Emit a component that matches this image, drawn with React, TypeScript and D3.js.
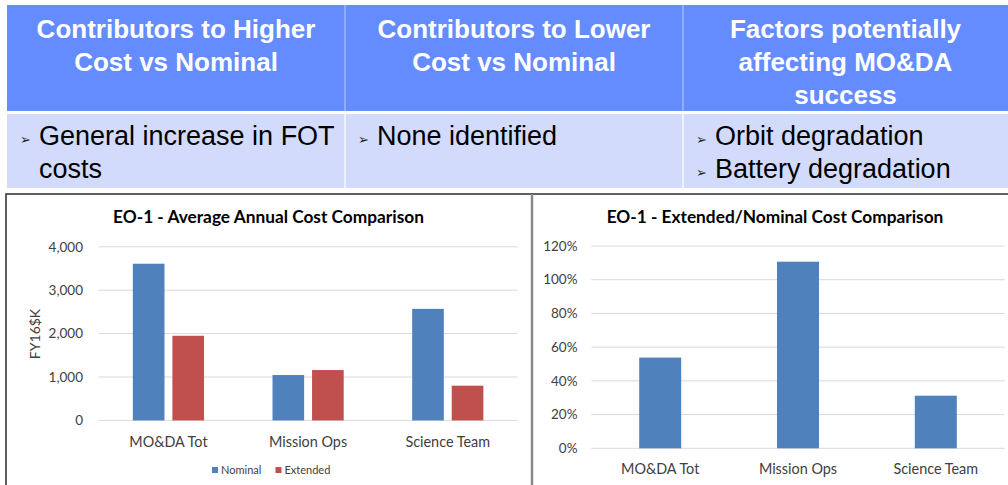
import React from "react";
import * as d3 from "d3";

// table text
const headerLines = [
  ["Contributors to Higher", "Cost vs Nominal"],
  ["Contributors to Lower", "Cost vs Nominal"],
  ["Factors potentially", "affecting MO&DA", "success"],
];
// each bullet is a list of wrapped lines
const bulletItems = [
  [["General increase in FOT", "costs"]],
  [["None identified"]],
  [["Orbit degradation"], ["Battery degradation"]],
];

// chart data
const categories = ["MO&DA Tot", "Mission Ops", "Science Team"];
const seriesNames = ["Nominal", "Extended"];
const nominalCost = [3610, 1045, 2570];
const extendedCost = [1950, 1160, 800];
const extendedRatio = [0.538, 1.107, 0.312];
const costTicks = [0, 1000, 2000, 3000, 4000];
const ratioTicks = [0, 0.2, 0.4, 0.6, 0.8, 1.0, 1.2];

const BLUE = "#4f81bd";
const RED = "#c0504d";
const GRID = "#d9d9d9";
const AXIS_TEXT = "#404040";
const FONT = "Lato, 'Open Sans', sans-serif";
const TABLE_FONT = "'Liberation Sans', Arial, sans-serif";

const colEdges = [7, 345, 683, 1008];

function Table() {
  return (
    <g fontFamily={TABLE_FONT}>
      <rect x={7} y={5} width={1001} height={106} fill="#658cff" />
      <rect x={7} y={114} width={1001} height={74} fill="#d3dbfc" />
      {[colEdges[1], colEdges[2]].map((x) => (
        <g key={x}>
          <line x1={x} x2={x} y1={5} y2={111} stroke="#90abff" strokeWidth={2} />
          <line x1={x} x2={x} y1={114} y2={188} stroke="#eef2ff" strokeWidth={2} />
        </g>
      ))}
      {headerLines.map((lines, i) => {
        const cx = (colEdges[i] + colEdges[i + 1]) / 2;
        return lines.map((t, j) => (
          <text
            key={`${i}-${j}`}
            x={cx}
            y={37.5 + j * 33}
            textAnchor="middle"
            fill="#fff"
            fontWeight="bold"
            fontSize={26}
          >
            {t}
          </text>
        ));
      })}
      {bulletItems.map((items, i) => {
        let row = 0;
        return items.map((lines, k) => {
          const y0 = 145 + row * 33;
          row += lines.length;
          const x0 = colEdges[i] + 13;
          return (
            <g key={`${i}-${k}`}>
              <text x={x0} y={y0 - 1} fontSize={13} fill="#222" fontFamily="'DejaVu Sans'">
                ➢
              </text>
              {lines.map((t, j) => (
                <text key={j} x={x0 + 19} y={y0 + j * 33} fontSize={27} fill="#000">
                  {t}
                </text>
              ))}
            </g>
          );
        });
      })}
    </g>
  );
}

function CostChart() {
  const x0 = d3.scaleBand().domain(categories).range([98.6, 517.6]);
  const groupW = 71.2;
  const x1 = d3.scaleBand().domain(seriesNames).range([0, groupW]).paddingInner(0.2);
  const y = d3.scaleLinear().domain([0, 4000]).range([420.4, 246.8]);
  const fmt = d3.format(",");
  const series = [nominalCost, extendedCost];
  const colors = [BLUE, RED];

  return (
    <g fontFamily={FONT}>
      <text x={268.5} y={223} textAnchor="middle" fontWeight="bold" fontSize={17.3} fill="#000">
        EO-1 - Average Annual Cost Comparison
      </text>
      {costTicks.map((t) => (
        <g key={t}>
          <line x1={98.6} x2={517.6} y1={y(t)} y2={y(t)} stroke={GRID} />
          <text x={83} y={y(t)} dy="0.35em" textAnchor="end" fontSize={13.5} fill={AXIS_TEXT}>
            {fmt(t)}
          </text>
        </g>
      ))}
      <text
        transform={`translate(40,334) rotate(-90)`}
        textAnchor="middle"
        fontSize={14}
        fill={AXIS_TEXT}
      >
        FY16$K
      </text>
      {categories.map((c, i) => {
        const gx = x0(c)! + (x0.bandwidth() - groupW) / 2;
        return (
          <g key={c}>
            {series.map((s, k) => (
              <rect
                key={k}
                x={gx + x1(seriesNames[k])!}
                y={y(s[i])}
                width={x1.bandwidth()}
                height={y(0) - y(s[i])}
                fill={colors[k]}
              />
            ))}
            <text
              x={x0(c)! + x0.bandwidth() / 2}
              y={442}
              dy="0.35em"
              textAnchor="middle"
              fontSize={14.4}
              fill={AXIS_TEXT}
            >
              {c}
            </text>
          </g>
        );
      })}
      <g fontSize={11} fill={AXIS_TEXT}>
        <rect x={212} y={467} width={6} height={6} fill={BLUE} />
        <text x={221} y={470.5} dy="0.35em">Nominal</text>
        <rect x={275.5} y={467} width={6} height={6} fill={RED} />
        <text x={284.5} y={470.5} dy="0.35em">Extended</text>
      </g>
    </g>
  );
}

function RatioChart() {
  const x = d3.scaleBand().domain(categories).range([591.3, 1004.7]);
  const barW = 42;
  const y = d3.scaleLinear().domain([0, 1.2]).range([448.3, 246]);
  const fmt = d3.format(".0%");

  return (
    <g fontFamily={FONT}>
      <text x={775} y={223} textAnchor="middle" fontWeight="bold" fontSize={17.3} fill="#000">
        EO-1 - Extended/Nominal Cost Comparison
      </text>
      {ratioTicks.map((t) => (
        <g key={t}>
          <line x1={591.3} x2={1004.7} y1={y(t)} y2={y(t)} stroke={GRID} />
          <text x={577.5} y={y(t)} dy="0.35em" textAnchor="end" fontSize={13.5} fill={AXIS_TEXT}>
            {fmt(t)}
          </text>
        </g>
      ))}
      {categories.map((c, i) => {
        const cx = x(c)! + x.bandwidth() / 2;
        return (
          <g key={c}>
            <rect
              x={cx - barW / 2}
              y={y(extendedRatio[i])}
              width={barW}
              height={y(0) - y(extendedRatio[i])}
              fill={BLUE}
            />
            <text x={cx} y={468.5} dy="0.35em" textAnchor="middle" fontSize={14.4} fill={AXIS_TEXT}>
              {c}
            </text>
          </g>
        );
      })}
    </g>
  );
}

export default function App() {
  return (
    <svg
      width={1008}
      height={485}
      style={{ position: "absolute", left: 0, top: 0, background: "#fff" }}
    >
      <Table />
      {/* chart panels */}
      <rect x={6} y={194} width={526} height={300} fill="#fff" stroke="#2b2b2b" strokeWidth={1.5} />
      <line x1={532} x2={1008} y1={194} y2={194} stroke="#2b2b2b" strokeWidth={1.5} />
      <line x1={532} x2={532} y1={194} y2={485} stroke="#8a8a8a" strokeWidth={2.5} />
      <CostChart />
      <RatioChart />
    </svg>
  );
}
